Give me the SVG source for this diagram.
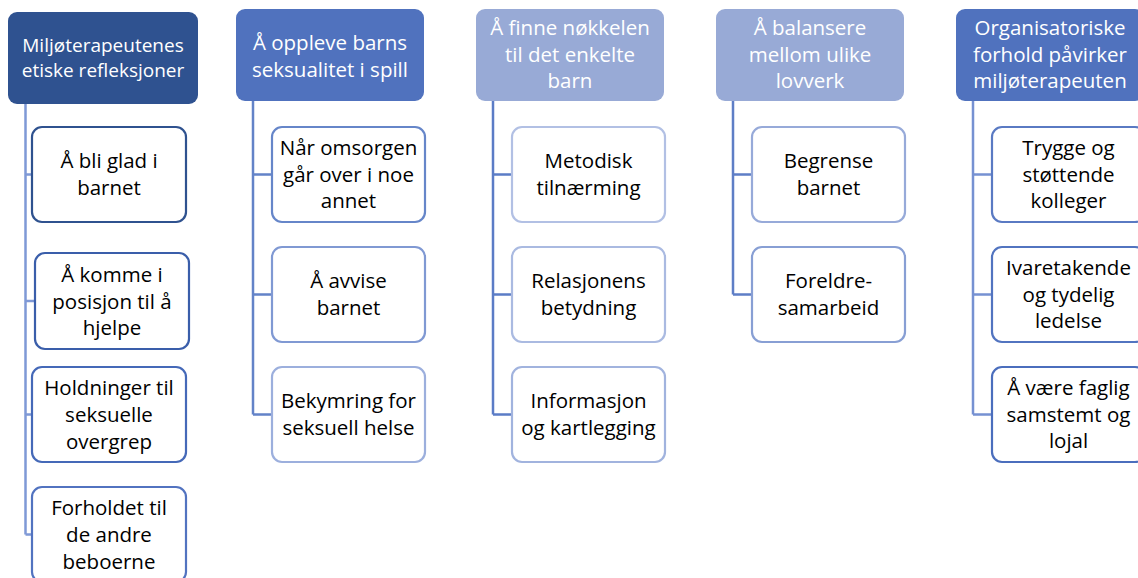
<svg xmlns="http://www.w3.org/2000/svg" width="1138" height="578" viewBox="0 0 1138 578">
<style>
.hd{stroke:none}
.ch{fill:#ffffff;stroke-width:2.2}
.ht{font-family:"Open Sans","Liberation Sans",sans-serif;font-size:20.5px;fill:#ffffff;text-anchor:middle}
.ct{font-family:"Open Sans","Liberation Sans",sans-serif;font-size:20.5px;fill:#000000;text-anchor:middle}
.cn{fill:none;stroke-width:2.5}
</style>
<rect width="1138" height="578" fill="#ffffff"/>
<g id="connectors">
<path class="cn" stroke="#7F99D6" d="M25.5,104V534.5M25.5,174.5H32M25.5,301H35M25.5,414.5H32M25.5,534.5H32"/>
<path class="cn" stroke="#6383C8" d="M253,101V414.5M253,174.5H272M253,294.5H272M253,414.5H272"/>
<path class="cn" stroke="#5B7CC6" d="M493,101V414.5M493,174.5H512M493,294.5H512M493,414.5H512"/>
<path class="cn" stroke="#5E7EC6" d="M733,101V294.5M733,174.5H752M733,294.5H752"/>
<path class="cn" stroke="#7691D2" d="M973,101V414.5M973,174.5H992M973,294.5H992M973,414.5H992"/>
</g>
<g id="h1"><rect class="hd" x="8" y="12" width="190" height="92" rx="9" fill="#2F5290"/>
<text class="ht" font-size="19" style="font-size:19px" x="103" y="52">Miljøterapeutenes</text><text class="ht" style="font-size:19px" x="103" y="77">etiske refleksjoner</text></g>
<g id="h2"><rect class="hd" x="236" y="9" width="188" height="92" rx="9" fill="#5072BE"/>
<text class="ht" x="330" y="50">Å oppleve barns</text><text class="ht" x="330" y="77">seksualitet i spill</text></g>
<g id="h3"><rect class="hd" x="476" y="9" width="188" height="92" rx="9" fill="#98AAD6"/>
<text class="ht" x="570" y="35">Å finne nøkkelen</text><text class="ht" x="570" y="62">til det enkelte</text><text class="ht" x="570" y="88">barn</text></g>
<g id="h4"><rect class="hd" x="716" y="9" width="188" height="92" rx="9" fill="#98AAD6"/>
<text class="ht" x="810" y="35">Å balansere</text><text class="ht" x="810" y="62">mellom ulike</text><text class="ht" x="810" y="88">lovverk</text></g>
<g id="h5"><rect class="hd" x="956" y="9" width="188" height="92" rx="9" fill="#5072BE"/>
<text class="ht" x="1050" y="35">Organisatoriske</text><text class="ht" x="1050" y="62">forhold påvirker</text><text class="ht" x="1050" y="88">miljøterapeuten</text></g>

<g id="c1a"><rect class="ch" x="32" y="127" width="154" height="95" rx="10" stroke="#2F528F"/>
<text class="ct" x="109" y="168">Å bli glad i</text><text class="ct" x="109" y="195">barnet</text></g>
<g id="c1b"><rect class="ch" x="35" y="253" width="154" height="96" rx="10" stroke="#3A5EAA"/>
<text class="ct" x="112" y="282">Å komme i</text><text class="ct" x="112" y="309">posisjon til å</text><text class="ct" x="112" y="335">hjelpe</text></g>
<g id="c1c"><rect class="ch" x="32" y="367" width="154" height="95" rx="10" stroke="#4569B8"/>
<text class="ct" x="109" y="395">Holdninger til</text><text class="ct" x="109" y="422">seksuelle</text><text class="ct" x="109" y="449">overgrep</text></g>
<g id="c1d"><rect class="ch" x="32" y="487" width="154" height="95" rx="10" stroke="#5273C0"/>
<text class="ct" x="109" y="515">Forholdet til</text><text class="ct" x="109" y="542">de andre</text><text class="ct" x="109" y="569">beboerne</text></g>

<g id="c2a"><rect class="ch" x="272" y="127" width="153" height="95" rx="10" stroke="#6686C9"/>
<text class="ct" x="348.5" y="155">Når omsorgen</text><text class="ct" x="348.5" y="182">går over i noe</text><text class="ct" x="348.5" y="208">annet</text></g>
<g id="c2b"><rect class="ch" x="272" y="247" width="153" height="95" rx="10" stroke="#8099D3"/>
<text class="ct" x="348.5" y="288">Å avvise</text><text class="ct" x="348.5" y="315">barnet</text></g>
<g id="c2c"><rect class="ch" x="272" y="367" width="153" height="95" rx="10" stroke="#9CAFDD"/>
<text class="ct" x="348.5" y="408">Bekymring for</text><text class="ct" x="348.5" y="435">seksuell helse</text></g>

<g id="c3a"><rect class="ch" x="512" y="127" width="153" height="95" rx="10" stroke="#B2C0E4"/>
<text class="ct" x="588.5" y="168">Metodisk</text><text class="ct" x="588.5" y="195">tilnærming</text></g>
<g id="c3b"><rect class="ch" x="512" y="247" width="153" height="95" rx="10" stroke="#AABAE1"/>
<text class="ct" x="588.5" y="288">Relasjonens</text><text class="ct" x="588.5" y="315">betydning</text></g>
<g id="c3c"><rect class="ch" x="512" y="367" width="153" height="95" rx="10" stroke="#A1B3DE"/>
<text class="ct" x="588.5" y="408">Informasjon</text><text class="ct" x="588.5" y="435">og kartlegging</text></g>

<g id="c4a"><rect class="ch" x="752" y="127" width="153" height="95" rx="10" stroke="#97AAD9"/>
<text class="ct" x="828.5" y="168">Begrense</text><text class="ct" x="828.5" y="195">barnet</text></g>
<g id="c4b"><rect class="ch" x="752" y="247" width="153" height="95" rx="10" stroke="#889FD4"/>
<text class="ct" x="828.5" y="288">Foreldre-</text><text class="ct" x="828.5" y="315">samarbeid</text></g>

<g id="c5a"><rect class="ch" x="992" y="127" width="153" height="95" rx="10" stroke="#5A7AC3"/>
<text class="ct" x="1068.5" y="155">Trygge og</text><text class="ct" x="1068.5" y="182">støttende</text><text class="ct" x="1068.5" y="208">kolleger</text></g>
<g id="c5b"><rect class="ch" x="992" y="247" width="153" height="95" rx="10" stroke="#5274C0"/>
<text class="ct" x="1068.5" y="275">Ivaretakende</text><text class="ct" x="1068.5" y="302">og tydelig</text><text class="ct" x="1068.5" y="328">ledelse</text></g>
<g id="c5c"><rect class="ch" x="992" y="367" width="153" height="95" rx="10" stroke="#4B6EBD"/>
<text class="ct" x="1068.5" y="395">Å være faglig</text><text class="ct" x="1068.5" y="422">samstemt og</text><text class="ct" x="1068.5" y="448">lojal</text></g>
</svg>
